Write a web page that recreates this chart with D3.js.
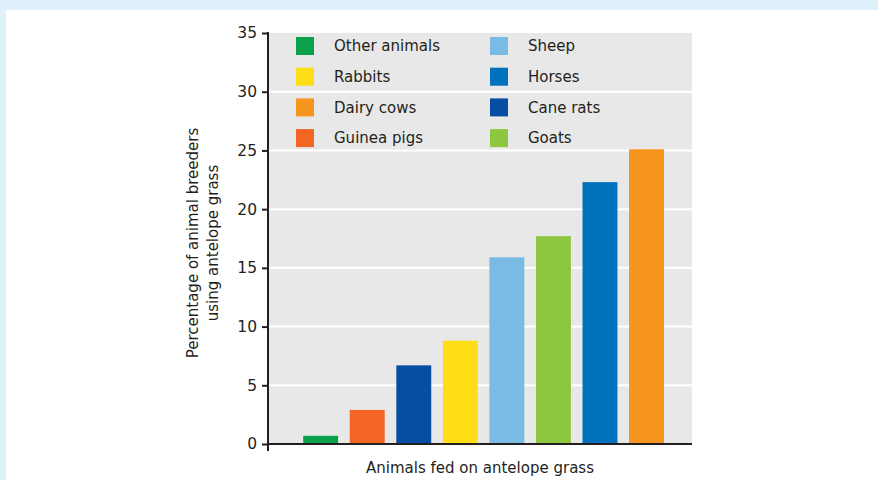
<!DOCTYPE html>
<html><head><meta charset="utf-8">
<script src="https://cdn.jsdelivr.net/npm/d3@7"></script>
<style>
html,body{margin:0;padding:0;background:#dff1fb;}
svg{display:block;}
text{font-family:"DejaVu Sans",sans-serif;fill:#231f20;}
</style></head>
<body>
<svg id="chart" width="878" height="480"></svg>
<script>
const categories = ["Other animals","Guinea pigs","Cane rats","Rabbits","Sheep","Goats","Horses","Dairy cows"];
const values = [0.7, 2.9, 6.7, 8.8, 15.9, 17.7, 22.3, 25.1];
const colors = ["#0ba14b","#f26522","#054ea2","#ffde17","#7abbe6","#8dc63f","#0071bc","#f7941d"];
const legendCol1 = ["Other animals","Rabbits","Dairy cows","Guinea pigs"];
const legendCol2 = ["Sheep","Horses","Cane rats","Goats"];
const yTicks = [0,5,10,15,20,25,30,35];
const yTitle = ["Percentage of animal breeders","using antelope grass"];
const xTitle = "Animals fed on antelope grass";

const svg = d3.select("#chart");
svg.append("rect").attr("x",6).attr("y",10).attr("width",872).attr("height",470).attr("fill","#ffffff");

const pL=268, pR=692, pT=33, pB=444;
const y = d3.scaleLinear().domain([0,35]).range([pB, pT]);
const x = d3.scaleBand().domain(categories).range([297.4, 669.8]).paddingInner(0.25).paddingOuter(0.125);
const colorOf = d3.scaleOrdinal().domain(categories).range(colors);

svg.append("rect").attr("x",pL).attr("y",pT).attr("width",pR-pL).attr("height",pB-pT).attr("fill","#e8e8e8");

svg.append("g").selectAll("line").data(yTicks.filter(d=>d>0 && d<35)).join("line")
  .attr("x1",pL).attr("x2",pR).attr("y1",d=>y(d)).attr("y2",d=>y(d))
  .attr("stroke","#ffffff").attr("stroke-width",2);

// legend
const lg = svg.append("g");
const rowY = i => 37 + i*30.7;
function legendCol(items, sx, tx){
  items.forEach((name,i)=>{
    lg.append("rect").attr("x",sx).attr("y",rowY(i)).attr("width",18).attr("height",18).attr("fill",colorOf(name));
    lg.append("text").attr("x",tx).attr("y",rowY(i)+9).attr("dy","0.35em").attr("font-size",15).text(name);
  });
}
legendCol(legendCol1, 296, 334);
legendCol(legendCol2, 490, 528);

// bars
svg.append("g").selectAll("rect").data(categories).join("rect")
  .attr("x",d=>x(d)).attr("width",x.bandwidth())
  .attr("y",(d,i)=>y(values[i])).attr("height",(d,i)=>y(0)-y(values[i]))
  .attr("fill",d=>colorOf(d));

// y axis
const yAxis = d3.axisLeft(y).tickValues(yTicks).tickSize(6).tickPadding(5);
const ya = svg.append("g").attr("transform",`translate(${pL},0)`).call(yAxis);
ya.select(".domain").remove();
ya.selectAll(".tick line").attr("stroke","#231f20").attr("stroke-width",2);
ya.selectAll(".tick text").attr("font-size",15.5).attr("font-family","DejaVu Sans").attr("fill","#231f20");
svg.append("line").attr("x1",pL).attr("x2",pL).attr("y1",pT-1).attr("y2",pB+7).attr("stroke","#231f20").attr("stroke-width",2);
// x axis
svg.append("line").attr("x1",pL-1).attr("x2",pR).attr("y1",pB).attr("y2",pB).attr("stroke","#231f20").attr("stroke-width",2);

// titles
const yt = svg.append("text").attr("transform","translate(203,243) rotate(-90)").attr("text-anchor","middle").attr("font-size",15);
yTitle.forEach((t,i)=>yt.append("tspan").attr("x",0).attr("y",(i-0.5)*20).attr("dy","0.35em").text(t));
svg.append("text").attr("x",480).attr("y",468).attr("dy","0.35em").attr("text-anchor","middle").attr("font-size",15).text(xTitle);
</script>
</body></html>
